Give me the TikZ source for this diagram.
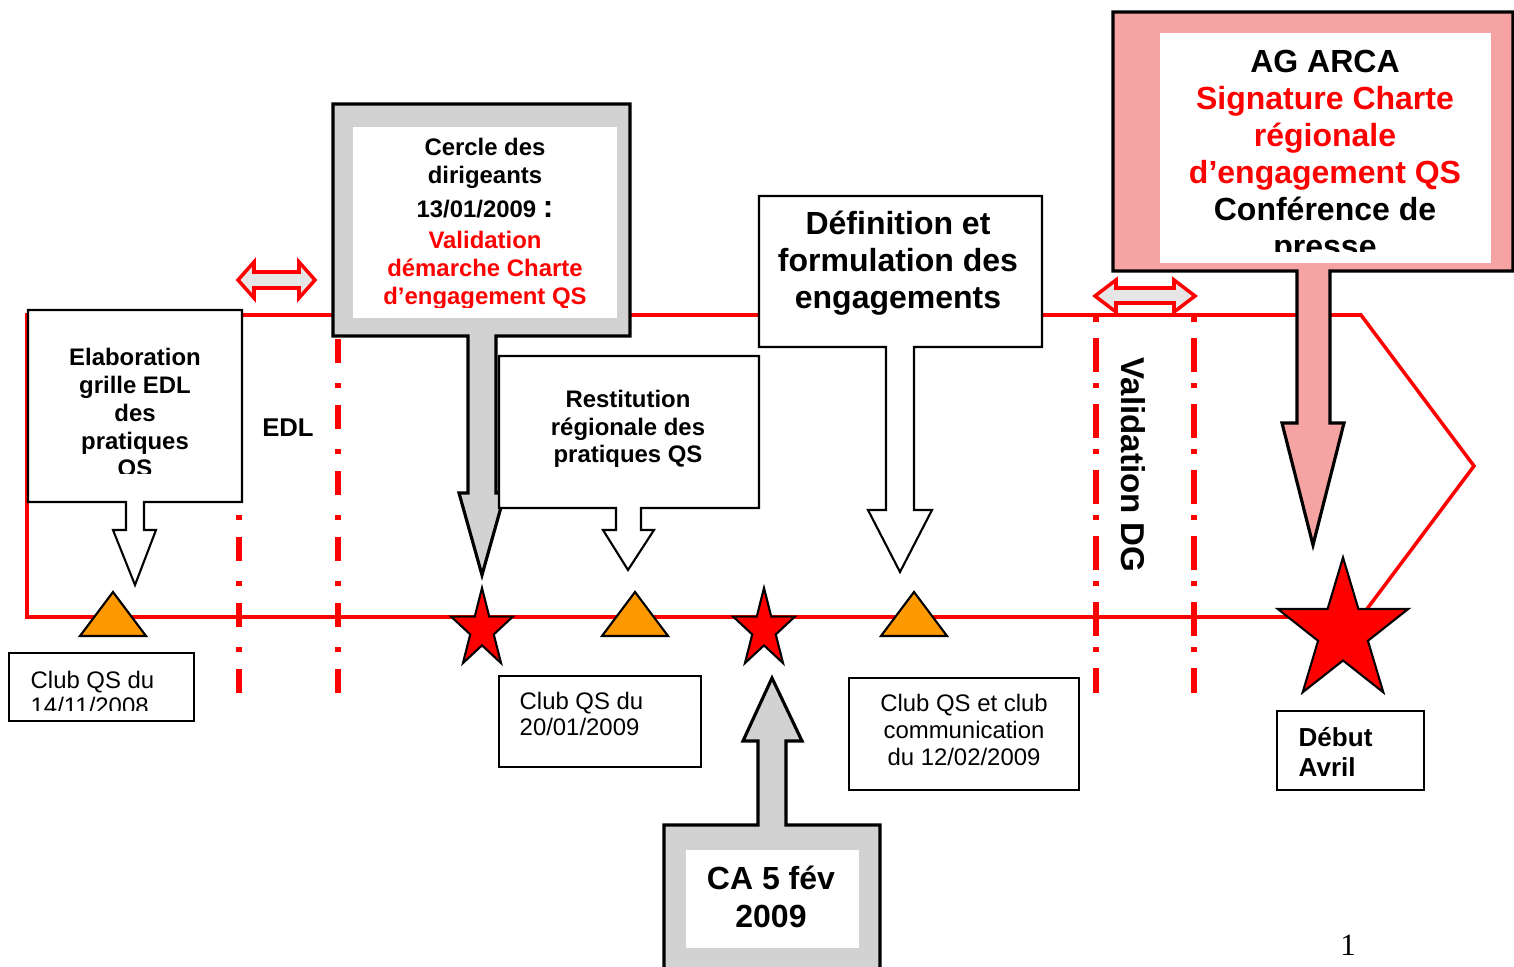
\documentclass[tikz,border=0pt]{standalone}
\usepackage{fontspec}
\setmainfont{Liberation Sans}
\newfontfamily\pagenumfont{Liberation Serif}
\usetikzlibrary{shapes.geometric}

\definecolor{qsorange}{HTML}{FF9900}
\definecolor{calloutgray}{HTML}{D2D2D2}
\definecolor{calloutpink}{HTML}{F5A3A3}
\definecolor{dblgray}{HTML}{E6E6E6}

\begin{document}
\begin{tikzpicture}[
  x=0.01cm, y=-0.01cm,
  tl/.style={red, line width=1pt, line join=miter},
  ddl/.style={red, line width=1.6pt, dash pattern=on 1.42pt off 4.84pt on 6.83pt off 5.69pt},
  ddr/.style={red, line width=1.6pt, dash pattern=on 1.42pt off 4.55pt on 9.67pt off 3.13pt},
  dbl/.style={draw=red, fill=dblgray, line width=1pt},
  tri/.style={draw, fill=qsorange, line width=0.6pt, line join=miter},
  rstar/.style={star, star points=5, star point ratio=2.618, draw, fill=red, line width=0.6pt, inner sep=0pt},
  co/.style={draw, fill=white, line width=0.6pt},
  cogray/.style={draw, fill=calloutgray, line width=0.9pt},
  copink/.style={draw, fill=calloutpink, line width=0.9pt},
  tbox/.style={draw, line width=0.6pt},
  sm/.style={font=\fontsize{6.8}{7.9}\selectfont\bfseries, align=center, inner sep=0pt},
  bg/.style={font=\fontsize{9.1}{10.5}\selectfont\bfseries, align=center, inner sep=0pt},
  club/.style={font=\fontsize{6.8}{7.6}\selectfont, align=left, inner sep=0pt}
]
  \useasboundingbox (0,0) rectangle (1514,967);

  % timeline
  \draw[tl] (27,315) -- (1361,315) -- (1474,466) -- (1361,617) -- (27,617) -- cycle;
  \draw[ddl] (239,317) -- (239,693);
  \draw[ddl] (338,317) -- (338,693);
  \draw[ddr] (1096,317) -- (1096,693);
  \draw[ddr] (1194,317) -- (1194,693);

  % double arrows
  \draw[dbl] (238,280) -- (254,262) -- (254,272) -- (299,272) -- (299,262) -- (315,280)
    -- (299,298) -- (299,288) -- (254,288) -- (254,298) -- cycle;
  \draw[dbl] (1095,296) -- (1116,280) -- (1116,288) -- (1174,288) -- (1174,280) -- (1195,296)
    -- (1174,312) -- (1174,303) -- (1116,303) -- (1116,312) -- cycle;

  % milestones
  \foreach \tx in {113,635,914}
    \draw[tri] (\tx-33,636) -- (\tx,592) -- (\tx+33,636) -- cycle;
  \node[rstar, minimum size=0.83cm, xscale=0.78] (star1) at (482,629.5) {};
  \node[rstar, minimum size=0.83cm, xscale=0.78] (star2) at (764,629.5) {};
  \node[rstar, minimum size=1.49cm, xscale=0.92] (star3) at (1343,632) {};

  % callouts
  \draw[co] (28,310) -- (242,310) -- (242,502) -- (144,502) -- (144,530) -- (156,530) -- (135,585)
    -- (113,530) -- (126,530) -- (126,502) -- (28,502) -- cycle;
  \begin{scope}
    \clip (30,312) rectangle (240,474);
    \node[sm] (elab) at (135,415) {Elaboration\\grille EDL\\des\\pratiques\\QS};
  \end{scope}

  \draw[cogray] (333,104) -- (630,104) -- (630,336) -- (496,336) -- (496,493) -- (505,493) -- (482,575)
    -- (459,493) -- (468,493) -- (468,336) -- (333,336) -- cycle;
  \fill[white] (353,127) rectangle (617,318);
  \begin{scope}
    \clip (353,127) rectangle (617,308);
    \node[sm] (cercle) at (485,224) {Cercle des\\dirigeants\\[1.7pt]13/01/2009 {\fontsize{9}{9}\selectfont :}\\[1pt]
      \textcolor{red}{Validation}\\\textcolor{red}{démarche Charte}\\\textcolor{red}{d’engagement QS}};
  \end{scope}

  \draw[co] (499,356) -- (759,356) -- (759,508) -- (641,508) -- (641,530) -- (654,530) -- (628,570)
    -- (603,530) -- (616,530) -- (616,508) -- (499,508) -- cycle;
  \node[sm] (restit) at (628,429) {Restitution\\régionale des\\pratiques QS};

  \draw[co] (759,196) -- (1042,196) -- (1042,347) -- (914,347) -- (914,510) -- (932,510) -- (900,572)
    -- (868,510) -- (886,510) -- (886,347) -- (759,347) -- cycle;
  \node[bg] (defin) at (898,263) {Définition et\\formulation des\\engagements};

  \draw[copink] (1113,12) -- (1513,12) -- (1513,271) -- (1330,271) -- (1330,423) -- (1344,423) -- (1313,545)
    -- (1282,423) -- (1297,423) -- (1297,271) -- (1113,271) -- cycle;
  \fill[white] (1160,33) rectangle (1491,263);
  \begin{scope}
    \clip (1160,33) rectangle (1491,252);
    \node[bg] (agarca) at (1325,157) {AG ARCA\\\textcolor{red}{Signature Charte}\\\textcolor{red}{régionale}\\
      \textcolor{red}{d’engagement QS}\\Conférence de\\presse};
  \end{scope}

  \draw[cogray] (664,985) -- (664,825) -- (758,825) -- (758,741) -- (743,741) -- (772,678) -- (802,741)
    -- (786,741) -- (786,825) -- (880,825) -- (880,985);
  \fill[white] (686,850) rectangle (859,948);
  \node[bg, font=\fontsize{9.1}{10.8}\selectfont\bfseries] (ca) at (771,897) {CA 5 fév\\2009};

  % dates
  \draw[tbox] (9,653) rectangle (194,721);
  \begin{scope}
    \clip (11,655) rectangle (192,711);
    \node[club, anchor=west] (club1) at (30,693) {Club QS du\\14/11/2008};
  \end{scope}
  \draw[tbox] (499,676) rectangle (701,767);
  \node[club, anchor=west] (club2) at (519,714) {Club QS du\\20/01/2009};
  \draw[tbox] (849,678) rectangle (1079,790);
  \node[club, align=center] (club3) at (964,730) {Club QS et club\\communication\\du 12/02/2009};
  \draw[tbox] (1277,711) rectangle (1424,790);
  \node[font=\fontsize{7.4}{8.5}\selectfont\bfseries, align=left, anchor=west, inner sep=0pt] (debut) at (1298,752) {Début\\Avril};

  % phase labels
  \node[font=\fontsize{7.3}{8}\selectfont\bfseries] (edl) at (288,428) {EDL};
  \node[font=\fontsize{9.4}{10}\selectfont\bfseries, rotate=-90] (valdg) at (1133,465) {Validation DG};
  \node[font=\pagenumfont\fontsize{8.8}{9}\selectfont] (pnum) at (1348,945) {1};
\end{tikzpicture}
\end{document}
